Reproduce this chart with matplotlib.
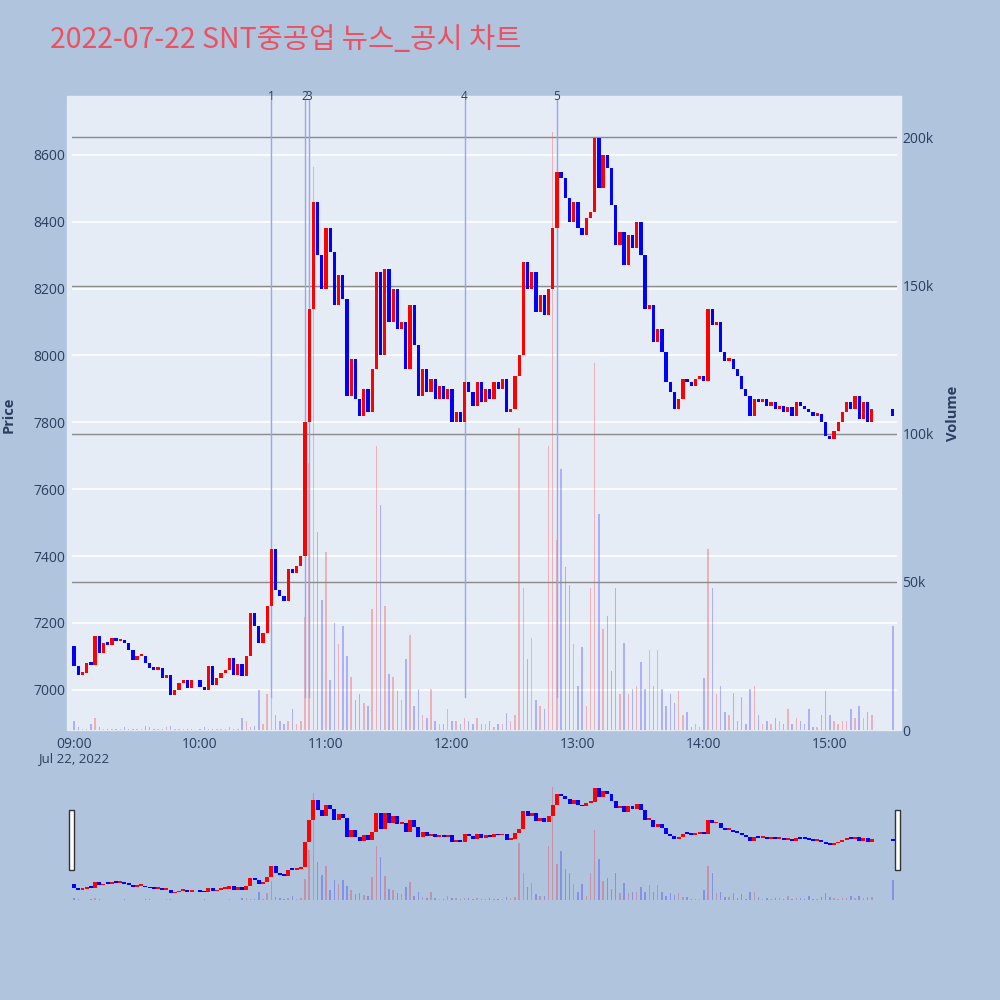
import numpy as np
import pandas as pd
import matplotlib
matplotlib.use("Agg")
import matplotlib.pyplot as plt
from matplotlib.patches import Rectangle
from matplotlib.transforms import blended_transform_factory

# ---------- datos (velas de 2 minutos) ----------
TITLE = "2022-07-22 SNT중공업 뉴스_공시 차트"
DAY = "2022-07-22"
FIRST_OPEN = 7130

# cierres cada 2 minutos desde 09:00 hasta 15:20 (nan = sin operaciones)
closes = [
    7070, 7045, 7050, 7080, 7075, 7160, 7110, 7140, 7135, 7155,   # 09:00
    7145, 7150, 7140, 7120, 7090, 7100, 7100, 7080, 7065, 7060,   # 09:20
    7065, 7035, 7045, 6985, 7000, 7022, 7030, 7005, 7030, np.nan, # 09:40
    7010, 7000, 7070, 7015, 7035, 7050, 7060, 7095, 7045, 7078,   # 10:00
    7040, 7100, 7230, 7190, 7140, 7170, 7250, 7420, 7300, 7280,   # 10:20
    7265, 7360, 7350, 7370, 7400, 7800, 8140, 8460, 8300, 8200,   # 10:40
    8380, 8310, 8150, 8240, 8170, 7880, 7990, 7870, 7820, 7900,   # 11:00
    7830, 7960, 8250, 8000, 8260, 8100, 8200, 8080, 8100, 7960,   # 11:20
    8150, 8030, 7880, 7960, 7890, 7930, 7870, 7910, 7870, 7900,   # 11:40
    7800, 7830, 7800, 7920, 7890, 7850, 7920, 7860, 7900, 7870,   # 12:00
    7920, 7900, 7930, 7830, 7840, 7940, 8000, 8280, 8200, 8250,   # 12:20
    8130, 8180, 8120, 8200, 8380, 8550, 8530, 8470, 8400, 8460,   # 12:40
    8380, 8360, 8410, 8430, 8650, 8500, 8600, 8560, 8450, 8330,   # 13:00
    8370, 8270, 8360, 8320, 8400, 8300, 8140, 8150, 8040, 8080,   # 13:20
    8010, 7920, 7890, 7840, 7870, 7930, 7920, 7910, 7930, 7940,   # 13:40
    7925, 8140, 8090, 8100, 8010, 7985, 7990, 7960, 7940, 7900,   # 14:00
    7880, 7820, 7870, 7860, 7870, 7850, 7860, 7840, 7850, 7830,   # 14:20
    7845, 7820, 7860, 7850, 7840, 7830, 7820, 7825, 7800, 7760,   # 14:40
    7750, 7775, 7800, 7830, 7860, 7840, 7880, 7810, 7860, 7800,   # 15:00
    7840,                                                         # 15:20
]

# volumen (miles de acciones) de cada vela
volumes = [
    3, 1, 0.5, 0.5, 2, 4, 1, 0.5, 0.5, 0.5,
    0.5, 0.3, 1, 0.5, 0.3, 0.3, 0.3, 1.5, 1, 0.3,
    0.3, 0.5, 1, 1.5, 0.3, 0.3, 0.5, 0.5, 0.3, 0,
    0.5, 1, 0.5, 0.3, 0.5, 0.5, 0.5, 1, 0.5, 0.3,
    4, 3, 1, 1.5, 13.5, 2, 12, 33, 5, 3,
    2, 3, 7, 2, 3, 38, 90, 190, 67, 44,
    60, 17, 36, 29, 35, 25, 18, 10, 12, 9,
    8, 41, 96, 76, 42, 19, 18, 13, 10, 24,
    32, 8, 14, 5, 4, 14, 3, 2, 2, 7,
    3, 3, 2, 4, 3, 2, 4, 2, 2, 3,
    1, 2, 2, 5.6, 3, 5, 102, 48, 24, 31,
    10, 8, 7, 96, 202, 64, 88, 55, 49, 29,
    15, 28, 8, 48, 124, 73, 34, 38.6, 20, 48,
    12, 29.5, 12, 14, 15, 23, 14, 27, 15, 27,
    14, 8, 12, 9, 13, 5, 6, 1, 2, 1,
    17.5, 61, 48, 12, 15, 6, 5, 12.6, 3, 11,
    2, 14, 15, 5, 2, 3, 2, 4, 3, 2,
    7, 2, 4, 3, 2, 7, 1, 1, 5, 13,
    5, 3, 2, 3, 3, 7, 4, 8, 4, 6,
    5,
]

# subasta de cierre
close_auction_time = "15:30"
close_auction_price = 7820
close_auction_volume = 35

# noticias / disclosures
event_times = ["10:34", "10:50", "10:52", "12:06", "12:50"]
event_labels = ["1", "2", "3", "4", "5"]

price_ticks = [7000, 7200, 7400, 7600, 7800, 8000, 8200, 8400, 8600]
vol_ticks = [0, 50, 100, 150, 200]
vol_tick_labels = ["0", "50k", "100k", "150k", "200k"]
time_ticks = ["09:00", "10:00", "11:00", "12:00", "13:00", "14:00", "15:00"]

# ---------- preparar ----------
day_open = pd.Timestamp(f"{DAY} 09:00")
bin_times = pd.date_range(day_open, periods=len(closes), freq="2min")
all_times = list(bin_times) + [pd.Timestamp(f"{DAY} {close_auction_time}")]
all_closes = list(closes) + [close_auction_price]
all_vols = list(volumes) + [close_auction_volume]


def to_min(t):
    return (pd.Timestamp(t) - day_open) / pd.Timedelta(minutes=1)


x = np.array([to_min(t) for t in all_times])
c = np.array(all_closes, dtype=float)
o = np.empty_like(c)
last = FIRST_OPEN
for i, v in enumerate(c):
    o[i] = last
    if not np.isnan(v):
        last = v
up = c >= o

RED, BLUE = "#FF0000", "#0000FF"
VRED, VBLUE = (1, 0, 0, 0.25), (0, 0, 1, 0.25)
BG = "#E5ECF6"
FIG_BG = "#B0C4DE"
TXT = "#2a3f5f"
XLIM = (-1, 392)
PLIM = (6880, 8776)
VLIM = (0, 214)

plt.rcParams["font.family"] = ["Open Sans", "Noto Sans CJK KR", "DejaVu Sans"]


def draw(ax, axv, min_h, body_w):
    ok = ~np.isnan(c)
    vol_cols = [VRED if u else VBLUE for u in up[ok]]
    axv.bar(x[ok], np.array(all_vols)[ok], width=0.7, color=vol_cols,
            linewidth=0, zorder=2)
    bottoms = np.minimum(o, c)[ok]
    heights = np.maximum(np.abs(c - o)[ok], min_h)
    cols = [RED if u else BLUE for u in up[ok]]
    ax.bar(x[ok], heights, bottom=bottoms, width=body_w, color=cols,
           linewidth=0, zorder=3)
    ax.set_xlim(*XLIM)
    ax.set_ylim(*PLIM)
    axv.set_ylim(*VLIM)
    ax.set_zorder(axv.get_zorder() + 1)
    ax.patch.set_visible(False)
    axv.set_facecolor(BG)
    for a in (ax, axv):
        for s in a.spines.values():
            s.set_visible(False)


fig = plt.figure(figsize=(10, 10), dpi=100, facecolor=FIG_BG)
fig.add_artist(Rectangle((0.067, 0.270), 0.834, 0.634, transform=fig.transFigure,
                         color=BG, zorder=0))

# ---------- grafico principal ----------
ax = fig.add_axes([0.072, 0.270, 0.825, 0.634])
axv = ax.twinx()
draw(ax, axv, min_h=7, body_w=1.55)

tr = blended_transform_factory(axv.transAxes, ax.transData)
for p in price_ticks:
    axv.plot([0, 1], [p, p], color="white", lw=1.2, transform=tr, zorder=1)
for v in vol_ticks[1:]:
    axv.axhline(v, color="#8a8a8a", lw=1, zorder=2.5)

for t, lab in zip(event_times, event_labels):
    xm = to_min(f"{DAY} {t}")
    ax.plot([xm, xm], [6980, 8765], color="#94A8F0", lw=1, zorder=2)
    ax.text(xm, PLIM[1], lab, ha="center", va="center", fontsize=8.5,
            color=TXT, clip_on=False)

ax.set_yticks(price_ticks)
ax.set_yticklabels([str(p) for p in price_ticks])
axv.set_yticks(vol_ticks)
axv.set_yticklabels(vol_tick_labels)
ax.set_xticks([to_min(f"{DAY} {t}") for t in time_ticks])
ax.set_xticklabels(time_ticks)
ax.tick_params(axis="y", length=0, labelsize=10, colors=TXT, pad=5)
ax.tick_params(axis="x", length=0, labelsize=10, colors=TXT, pad=5)
axv.tick_params(axis="y", length=0, labelsize=10, colors=TXT, pad=4)

ax.text(0, -0.0455, "Jul 22, 2022", transform=blended_transform_factory(ax.transData, ax.transAxes),
        ha="center", va="center", fontsize=9.5, color=TXT)

fig.text(0.009, 0.585, "Price", rotation=90, ha="center", va="center",
         fontsize=10.5, fontweight="bold", color=TXT)
fig.text(0.953, 0.587, "Volume", rotation=90, ha="center", va="center",
         fontsize=10.5, fontweight="bold", color=TXT)

fig.text(0.050, 0.960, TITLE, ha="left", va="center", fontsize=20.5,
         color="#EC5162", family=["Noto Sans CJK KR", "DejaVu Sans"])

# ---------- range slider ----------
axs = fig.add_axes([0.072, 0.100, 0.825, 0.120])
axsv = axs.twinx()
draw(axs, axsv, min_h=28, body_w=1.9)
for a in (axs, axsv):
    a.set_xticks([])
    a.set_yticks([])

for hx in (0.069, 0.895):
    fig.add_artist(Rectangle((hx, 0.130), 0.005, 0.060, transform=fig.transFigure,
                             facecolor="white", edgecolor="#333333", lw=1, zorder=5))

fig.savefig("out.png", dpi=100, facecolor=FIG_BG)
